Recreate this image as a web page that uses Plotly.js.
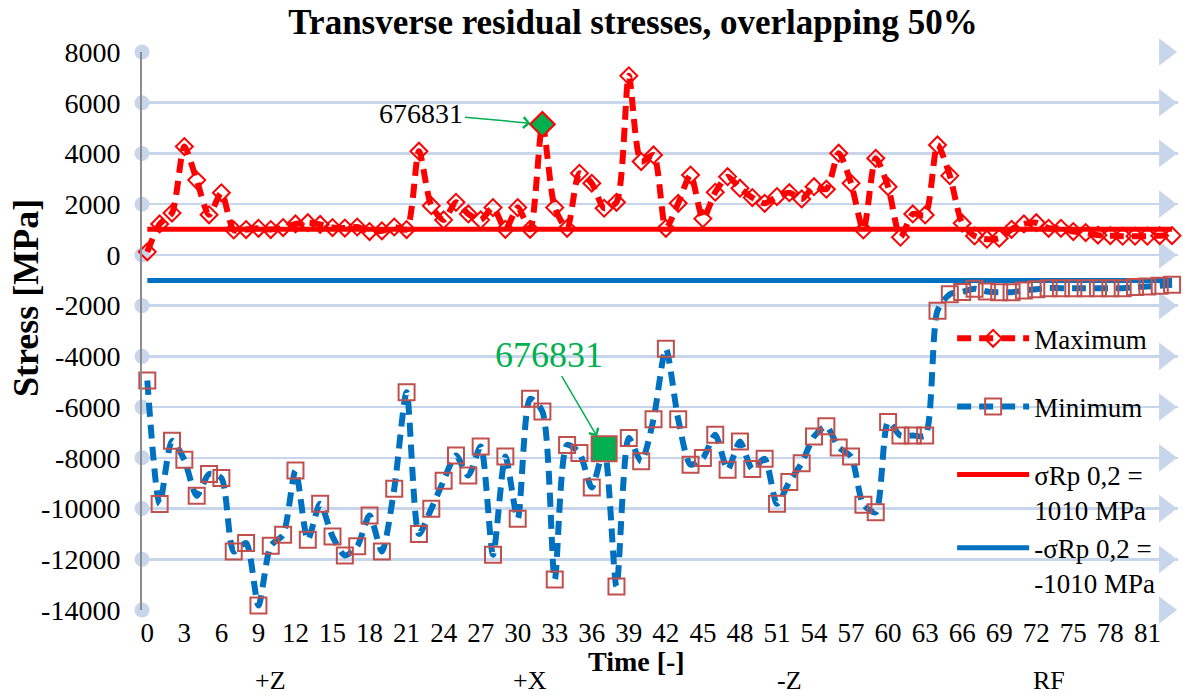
<!DOCTYPE html>
<html><head><meta charset="utf-8">
<script src="https://cdn.plot.ly/plotly-3.0.1.min.js"></script>
<style>html,body{margin:0;padding:0;background:#fff}#chart{width:1183px;height:697px}</style>
</head><body><div id="chart"></div>
<script>
const timeSteps = [0,1,2,3,4,5,6,7,8,9,10,11,12,13,14,15,16,17,18,19,20,21,22,23,24,25,26,27,28,29,30,31,32,33,34,35,36,37,38,39,40,41,42,43,44,45,46,47,48,49,50,51,52,53,54,55,56,57,58,59,60,61,62,63,64,65,66,67,68,69,70,71,72,73,74,75,76,77,78,79,80,81,82,83];
const maxStress = [120,1220,1650,4270,2950,1580,2450,985,1000,1050,1000,1080,1220,1270,1200,1080,1060,1100,920,950,1100,1000,4090,1940,1380,2075,1615,1380,1865,1010,1865,1010,5150,1865,1050,3220,2825,1840,2075,7060,3680,3940,1050,2035,3150,1430,2470,3085,2630,2260,2035,2300,2455,2205,2690,2590,4010,2825,985,3810,2690,700,1615,1575,4335,3125,1250,750,620,660,1010,1220,1270,1050,1050,920,880,780,760,740,740,740,760,760];
const minStress = [-4950,-9820,-7330,-8080,-9500,-8640,-8800,-11690,-11360,-13820,-11470,-11030,-8500,-11230,-9810,-11100,-11850,-11490,-10270,-11690,-9220,-5410,-11000,-10010,-8900,-7910,-8700,-7550,-11820,-7950,-10400,-5670,-6170,-12800,-7490,-7810,-9170,-7640,-13070,-7220,-8140,-6480,-3700,-6480,-8270,-8010,-7090,-8470,-7360,-8440,-8040,-9810,-8950,-8210,-7160,-6760,-7590,-7950,-9850,-10150,-6590,-7120,-7120,-7120,-2200,-1550,-1460,-1330,-1440,-1470,-1470,-1400,-1350,-1310,-1310,-1310,-1310,-1310,-1310,-1310,-1270,-1250,-1220,-1180];
const yieldStrength = 1010;
const xTickVals = [0,3,6,9,12,15,18,21,24,27,30,33,36,39,42,45,48,51,54,57,60,63,66,69,72,75,78,81];
const yTickVals = [8000,6000,4000,2000,0,-2000,-4000,-6000,-8000,-10000,-12000,-14000];
const yTickText = ["8000","6000","4000","2000","0","-2000","-4000","-6000","-8000","-10000","-12000","-14000"];
const groupLabels = ["+Z","+X","-Z","RF"];
const groupSize = 21;
const highlightMaxIdx = 32;
const highlightMinIdx = 37;
const highlightLabel = "676831";
const seriesNames = ["Maximum","Minimum","σRp 0,2 =<br>1010 MPa","-σRp 0,2 =<br>-1010 MPa"];

const FONT = "Liberation Serif, Times New Roman, serif";
const xRange = [-0.43, 83.48];
const yRange = [-14000, 8000];
const gridColor = "#c7d6ea";
const lastX = timeSteps[timeSteps.length - 1];
const firstX = timeSteps[0];

const traces = [
  {x: yTickVals.map(() => xRange[0]), y: yTickVals, mode: "markers", showlegend: false, hoverinfo: "skip", cliponaxis: false,
   marker: {symbol: "circle", size: 15, color: gridColor}},
  {x: yTickVals.map(() => xRange[1] - 1.05), y: yTickVals, mode: "markers", showlegend: false, hoverinfo: "skip", cliponaxis: false,
   marker: {symbol: "triangle-right", size: 24, color: gridColor}},
  {x: [firstX, lastX], y: [yieldStrength, yieldStrength], mode: "lines", name: seriesNames[2], legendgroup: "c", legendrank: 3,
   line: {color: "#ff0000", width: 5}},
  {x: [firstX, lastX], y: [-yieldStrength, -yieldStrength], mode: "lines", name: seriesNames[3], legendgroup: "c", legendrank: 4,
   line: {color: "#0070c0", width: 5}},
  {x: timeSteps, y: maxStress, mode: "lines+markers", name: seriesNames[0], legendgroup: "a", legendrank: 1, cliponaxis: false,
   line: {color: "#ff0000", width: 6, dash: "14px,8px", shape: "spline", smoothing: 0.7},
   marker: {symbol: "diamond-open", size: 13, color: "#ff0000", line: {width: 2, color: "#ff0000"}}},
  {x: timeSteps, y: minStress, mode: "lines+markers", name: seriesNames[1], legendgroup: "b", legendrank: 2, cliponaxis: false,
   line: {color: "#0070c0", width: 6, dash: "14px,8px", shape: "spline", smoothing: 0.7},
   marker: {symbol: "square-open", size: 16, color: "#c0504d", line: {width: 2, color: "#c0504d"}}},
  {x: [timeSteps[highlightMaxIdx]], y: [maxStress[highlightMaxIdx]], mode: "markers", showlegend: false, hoverinfo: "skip",
   marker: {symbol: "diamond", size: 19, color: "#00b050", line: {width: 2, color: "#ff0000"}}},
  {x: [timeSteps[highlightMinIdx]], y: [minStress[highlightMinIdx]], mode: "markers", showlegend: false, hoverinfo: "skip",
   marker: {symbol: "square", size: 25, color: "#00b050", line: {width: 2, color: "#c0504d"}}}
];

const annotations = [
  {x: timeSteps[highlightMaxIdx], y: maxStress[highlightMaxIdx], text: highlightLabel, showarrow: true,
   ax: -121, ay: -11, standoff: 12, arrowhead: 4, arrowsize: 1.4, arrowwidth: 1.5, arrowcolor: "#00b050",
   font: {family: FONT, size: 28, color: "#000"}},
  {x: timeSteps[highlightMinIdx], y: minStress[highlightMinIdx], text: highlightLabel, showarrow: true,
   ax: -55, ay: -94, standoff: 14, arrowhead: 4, arrowsize: 1.4, arrowwidth: 1.5, arrowcolor: "#00b050",
   font: {family: FONT, size: 36, color: "#00b050"}},
  {xref: "paper", yref: "paper", x: 0.477, y: -0.093, xanchor: "center", yanchor: "middle", showarrow: false,
   text: "<b>Time [-]</b>", font: {family: FONT, size: 28, color: "#000"}},
  {xref: "paper", yref: "paper", x: -0.112, y: 0.559, xanchor: "center", yanchor: "middle", showarrow: false, textangle: -90,
   text: "<b>Stress [MPa]</b>", font: {family: FONT, size: 36, color: "#000"}}
];
groupLabels.forEach((g, i) => {
  annotations.push({x: i * groupSize + (groupSize - 1) / 2, yref: "paper", y: -0.127, xanchor: "center", yanchor: "middle",
    showarrow: false, text: g, font: {family: FONT, size: 26, color: "#000"}});
});

const layout = {
  width: 1183, height: 697,
  margin: {l: 142, r: 5, t: 52, b: 87},
  paper_bgcolor: "#fff", plot_bgcolor: "#fff",
  font: {family: FONT, color: "#000"},
  title: {text: "<b>Transverse residual stresses, overlapping 50%</b>", font: {family: FONT, size: 35, color: "#000"},
    x: 633 / 1183, xanchor: "center", xref: "container", y: 1 - 22 / 697, yanchor: "middle", yref: "container"},
  xaxis: {range: xRange, tickvals: xTickVals, showgrid: false, zeroline: false, showline: false, ticks: "",
    tickfont: {family: FONT, size: 27, color: "#000"}, ticklabelstandoff: 4},
  yaxis: {range: yRange, tickvals: yTickVals, ticktext: yTickText, showgrid: true, gridcolor: gridColor, gridwidth: 2.5, zeroline: false,
    showline: true, linecolor: "#8c8c8c", linewidth: 2, ticks: "", ticklabelstandoff: 14,
    tickfont: {family: FONT, size: 28, color: "#000"}},
  showlegend: true,
  legend: {x: 0.782, xanchor: "left", y: 0.53, yanchor: "top", bgcolor: "rgba(0,0,0,0)", borderwidth: 0,
    itemwidth: 72, tracegroupgap: 30, valign: "top", traceorder: "grouped",
    font: {family: FONT, size: 27, color: "#000"}},
  annotations: annotations
};

Plotly.newPlot("chart", traces, layout, {displayModeBar: false, staticPlot: true});
</script></body></html>
